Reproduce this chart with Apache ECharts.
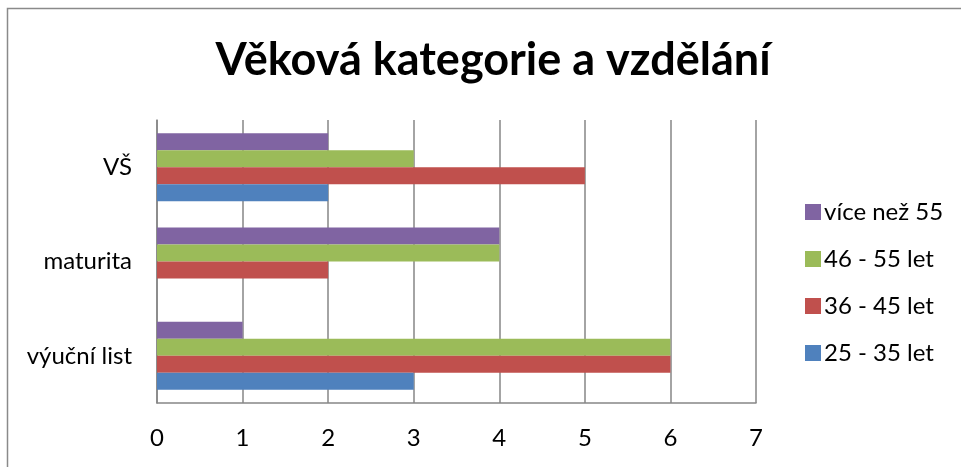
<!DOCTYPE html>
<html><head><meta charset="utf-8">
<script src="https://cdn.jsdelivr.net/npm/echarts@6/dist/echarts.min.js"></script>
<style>html,body{margin:0;padding:0;background:#fff}#c{width:961px;height:467px}</style>
</head><body><div id="c"></div>
<script>
const categories = ['výuční list', 'maturita', 'VŠ'];
const seriesNames = ['25 - 35 let', '36 - 45 let', '46 - 55 let', 'více než 55'];
const s25_35 = [3, 0, 2];
const s36_45 = [6, 2, 5];
const s46_55 = [6, 4, 3];
const s55plus = [1, 4, 2];
const xTicks = [0, 1, 2, 3, 4, 5, 6, 7];
const colors = ['#4F81BD', '#C0504D', '#9BBB59', '#8064A2'];
const values = [s25_35, s36_45, s46_55, s55plus];

const chart = echarts.init(document.getElementById('c'), null, {renderer: 'canvas'});
const font = 'Lato';
const order = [3, 2, 1, 0];
chart.setOption({
  animation: false,
  textStyle: {fontFamily: font},
  title: {
    text: 'Věková kategorie a vzdělání',
    left: 488, top: 33, textAlign: 'center',
    textStyle: {fontFamily: font, fontWeight: 'bold', fontSize: 45, color: '#000'}
  },
  graphic: [{
    type: 'rect', shape: {x: 7.5, y: 8.5, width: 970, height: 480},
    style: {fill: null, stroke: '#8a8a8a', lineWidth: 1.5}, silent: true
  }],
  legend: {
    orient: 'vertical', left: 805, top: 200, padding: 0,
    itemWidth: 16, itemHeight: 16, itemGap: 23,
    icon: 'rect',
    data: [seriesNames[3], seriesNames[2], seriesNames[1], seriesNames[0]],
    textStyle: {fontFamily: font, fontSize: 24, color: '#000', padding: [0,0,0,-2]}
  },
  grid: {left: 157, right: 205, top: 120, bottom: 64, containLabel: false},
  xAxis: {
    type: 'value', min: 0, max: 7, interval: 1,
    axisLine: {show: true, lineStyle: {color: '#868686', width: 1.5}},
    axisTick: {show: false},
    splitLine: {show: true, lineStyle: {color: '#868686', width: 1.5}},
    axisLabel: {fontFamily: font, fontSize: 24, color: '#000', margin: 23,
      formatter: v => xTicks.includes(v) ? String(v) : ''}
  },
  yAxis: {
    type: 'category', data: categories,
    axisLine: {show: true, lineStyle: {color: '#868686', width: 1.5}},
    axisTick: {show: false},
    axisLabel: {fontFamily: font, fontSize: 24, color: '#000', margin: 25}
  },
  series: order.map(i => ({
    name: seriesNames[i], type: 'bar', data: values[i],
    itemStyle: {color: colors[i]},
    barGap: '0%', barCategoryGap: '28%'
  }))
});
</script></body></html>
